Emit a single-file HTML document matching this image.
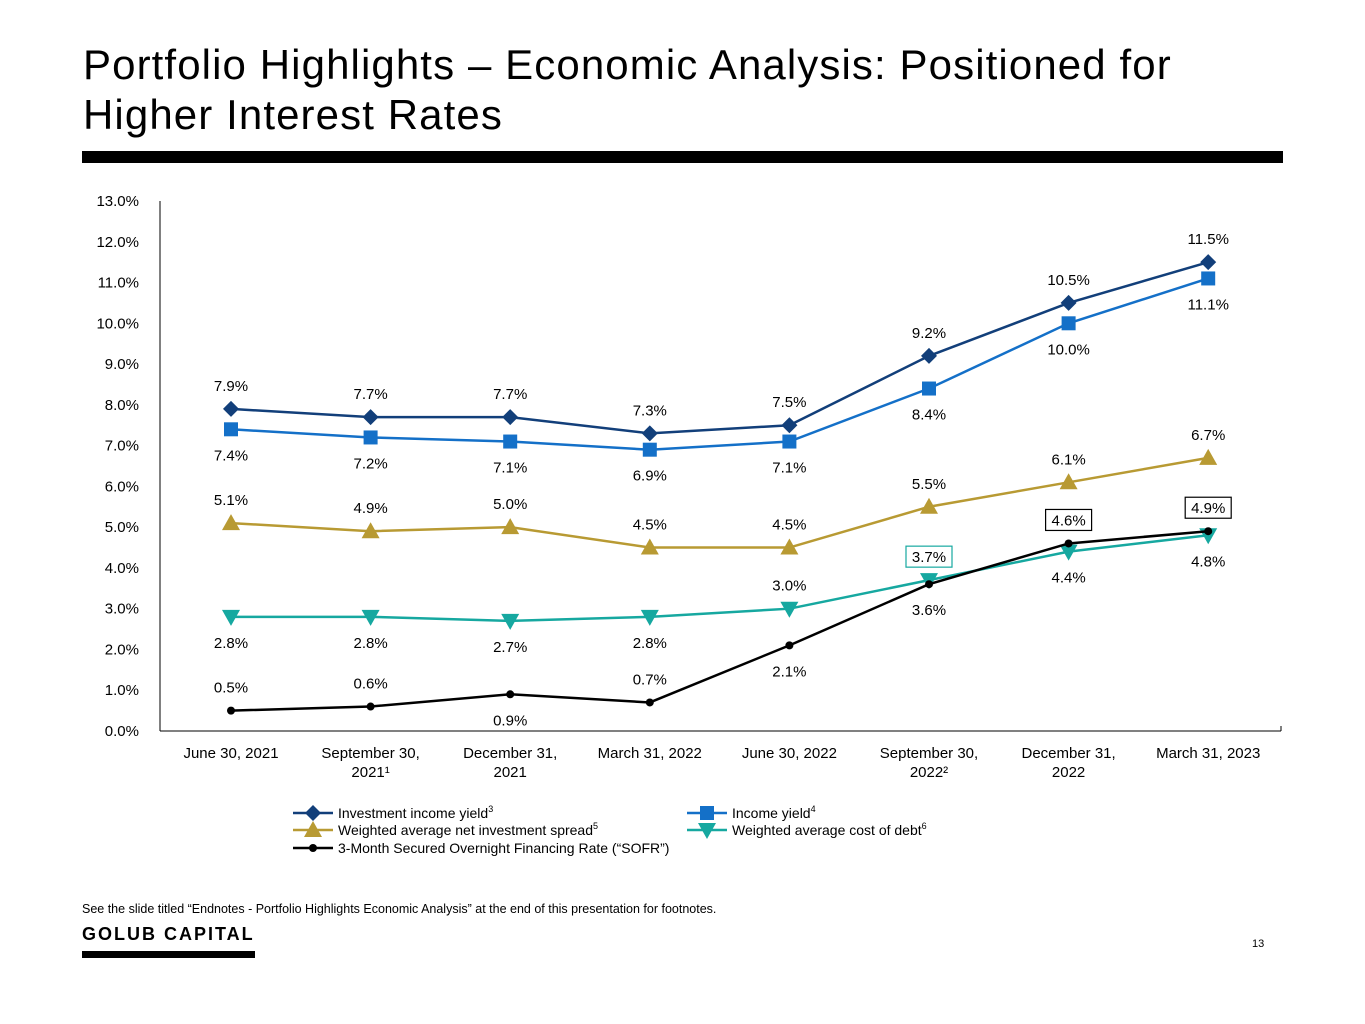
<!DOCTYPE html>
<html><head><meta charset="utf-8"><style>
body{margin:0;width:1365px;height:1024px;background:#fff;font-family:"Liberation Sans",sans-serif;position:relative;overflow:hidden}
h1{position:absolute;left:83px;top:40px;margin:0;font-weight:normal;font-size:42px;line-height:50px;color:#000;letter-spacing:1.1px}
.bar{position:absolute;left:82px;top:151px;width:1201px;height:12px;background:#000}
.note{position:absolute;left:82px;top:902px;font-size:12.5px}
.logo{position:absolute;left:82px;top:924px;font-size:18px;font-weight:bold;letter-spacing:2px}
.logobar{position:absolute;left:82px;top:951px;width:173px;height:7px;background:#000}
.pg{position:absolute;left:1252px;top:938px;font-size:11px}
</style></head><body>
<h1>Portfolio Highlights – Economic Analysis: Positioned for<br>Higher Interest Rates</h1>
<div class="bar"></div>
<svg id="chart" width="1365" height="1024" style="position:absolute;left:0;top:0" font-family="Liberation Sans, sans-serif"></svg>
<div class="note">See the slide titled “Endnotes - Portfolio Highlights Economic Analysis” at the end of this presentation for footnotes.</div>
<div class="logo">GOLUB CAPITAL</div>
<div class="logobar"></div>
<div class="pg">13</div>
<script>
const categories=["June 30, 2021","September 30,|2021¹","December 31,|2021","March 31, 2022","June 30, 2022","September 30,|2022²","December 31,|2022","March 31, 2023"];
const investmentIncomeYield=[7.9,7.7,7.7,7.3,7.5,9.2,10.5,11.5];
const incomeYield=[7.4,7.2,7.1,6.9,7.1,8.4,10.0,11.1];
const netSpread=[5.1,4.9,5.0,4.5,4.5,5.5,6.1,6.7];
const costOfDebt=[2.8,2.8,2.7,2.8,3.0,3.7,4.4,4.8];
const sofr=[0.5,0.6,0.9,0.7,2.1,3.6,4.6,4.9];
const yTicks=[0,1,2,3,4,5,6,7,8,9,10,11,12,13];
const NS="http://www.w3.org/2000/svg";
const svg=document.getElementById('chart');
const x0=231,dx=139.6,yBase=731,pxPer=40.77;
const X=i=>x0+i*dx, Y=v=>yBase-v*pxPer;
function el(tag,attrs,parent){const e=document.createElementNS(NS,tag);for(const k in attrs)e.setAttribute(k,attrs[k]);(parent||svg).appendChild(e);return e;}
let a=el('line',{x1:160,y1:201,x2:160,y2:731,stroke:'#000','stroke-width':1});


a=el('line',{x1:160,y1:731,x2:1281,y2:731,stroke:'#000','stroke-width':1});


el('line',{x1:1281,y1:726,x2:1281,y2:731,stroke:'#000'});
yTicks.forEach(t=>{const tx=el('text',{x:139,y:Y(t)+5,'text-anchor':'end','font-size':15});tx.textContent=t.toFixed(1)+'%';

});
categories.forEach((c,i)=>{c.split('|').forEach((ln,j)=>{const tx=el('text',{x:X(i),y:758+j*19,'text-anchor':'middle','font-size':15});tx.textContent=ln;

});});
function marker(shape,x,y,color,g){
 if(shape==='diamond')el('polygon',{points:`${x},${y-8} ${x+8},${y} ${x},${y+8} ${x-8},${y}`,fill:color},g);
 else if(shape==='square')el('rect',{x:x-7,y:y-7,width:14,height:14,fill:color},g);
 else if(shape==='up')el('polygon',{points:`${x},${y-9} ${x+9},${y+7} ${x-9},${y+7}`,fill:color},g);
 else if(shape==='down')el('polygon',{points:`${x-9},${y-7} ${x+9},${y-7} ${x},${y+9}`,fill:color},g);
 else el('circle',{cx:x,cy:y,r:4,fill:color},g);
}
const series=[
 {name:'cost-of-debt',data:costOfDebt,color:'#16a8a0',shape:'down',pos:['b','b','b','b','a','A','b','b'],box:'#16a8a0'},
 {name:'sofr',data:sofr,color:'#000',shape:'dot',pos:['a','a','b','a','b','b','A','A'],box:'#000'},
 {name:'net-spread',data:netSpread,color:'#b89a33',shape:'up',pos:['a','a','a','a','a','a','a','a']},
 {name:'income-yield',data:incomeYield,color:'#1470c8',shape:'square',pos:['b','b','b','b','b','b','b','b']},
 {name:'investment-income-yield',data:investmentIncomeYield,color:'#123f7a',shape:'diamond',pos:['a','a','a','a','a','a','a','a']}
];
series.forEach(s=>{
 const g=el('g',{});
 
 
 el('polyline',{points:s.data.map((v,i)=>X(i)+','+Y(v)).join(' '),fill:'none',stroke:s.color,'stroke-width':2.5},g);
 s.data.forEach((v,i)=>marker(s.shape,X(i),Y(v),s.color,g));
});
series.forEach(s=>{
 s.data.forEach((v,i)=>{
  const p=s.pos[i];const ly=(p==='b')?Y(v)+31:Y(v)-18;
  if(p==='A'){el('rect',{x:X(i)-23,y:ly-16,width:46,height:21,fill:'#fff',stroke:s.box,'stroke-width':1.2});}
  const tx=el('text',{x:X(i),y:ly,'text-anchor':'middle','font-size':15});tx.textContent=v.toFixed(1)+'%';
  
  
 });
});
const legend=[
 {x:293,y:813,color:'#123f7a',shape:'diamond',t:'Investment income yield',s:'3'},
 {x:687,y:813,color:'#1470c8',shape:'square',t:'Income yield',s:'4'},
 {x:293,y:830,color:'#b89a33',shape:'up',t:'Weighted average net investment spread',s:'5'},
 {x:687,y:830,color:'#16a8a0',shape:'down',t:'Weighted average cost of debt',s:'6'},
 {x:293,y:848,color:'#000',shape:'dot',t:'3-Month Secured Overnight Financing Rate (“SOFR”)',s:''}
];
legend.forEach(l=>{
 const g=el('g',{});
 
 
 el('line',{x1:l.x,y1:l.y,x2:l.x+40,y2:l.y,stroke:l.color,'stroke-width':2.5},g);
 marker(l.shape,l.x+20,l.y,l.color,g);
 const tx=el('text',{x:l.x+45,y:l.y+5,'font-size':14},g);tx.textContent=l.t;
 if(l.s){const sp=el('tspan',{'font-size':9,dy:-6},tx);sp.textContent=l.s;}
});
</script>
</body></html>
